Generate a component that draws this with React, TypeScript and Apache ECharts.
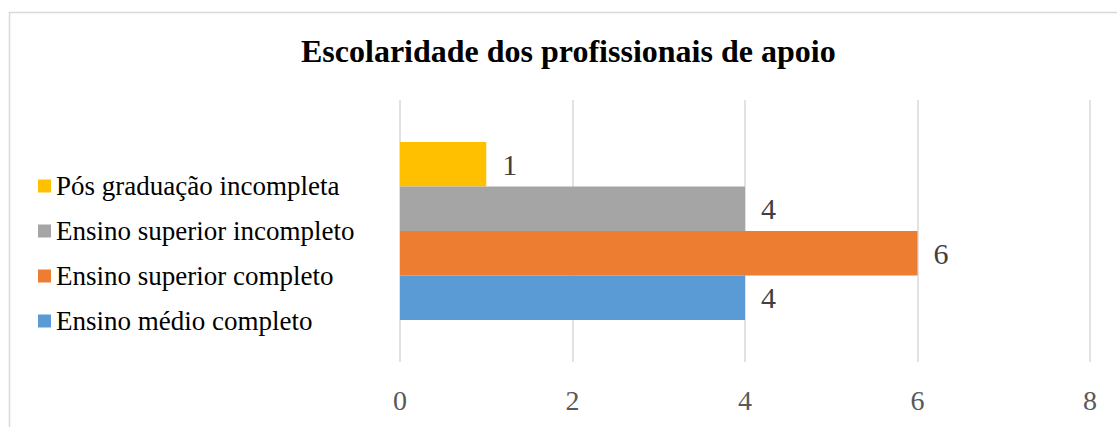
import React, { useEffect, useRef } from "react";
import * as echarts from "echarts";

const title = "Escolaridade dos profissionais de apoio";
const categories = [""];
// top to bottom as drawn
const seriesNames = [
  "Pós graduação incompleta",
  "Ensino superior incompleto",
  "Ensino superior completo",
  "Ensino médio completo",
];
const seriesValues = [[1], [4], [6], [4]];
const seriesColors = ["#FFC000", "#A5A5A5", "#ED7D31", "#5B9BD5"];
const legendOrder = [
  "Pós graduação incompleta",
  "Ensino superior incompleto",
  "Ensino superior completo",
  "Ensino médio completo",
];
const xTicks = { min: 0, max: 8, interval: 2 };

const FONT = "'Times New Roman', 'Liberation Serif', serif";

export default function App() {
  const ref = useRef<HTMLDivElement>(null);
  useEffect(() => {
    if (!ref.current) return;
    const chart = echarts.init(ref.current, undefined, { renderer: "svg" });
    chart.setOption({
      animation: false,
      backgroundColor: "#ffffff",
      textStyle: { fontFamily: FONT },
      title: {
        text: title,
        left: 301,
        top: 35,
        padding: 0,
        textStyle: { fontFamily: FONT, fontSize: 32, fontWeight: "bold", color: "#000000" },
      },
      legend: {
        orient: "vertical",
        left: 33,
        top: 166,
        data: legendOrder,
        icon: "rect",
        itemWidth: 13,
        itemHeight: 13,
        itemGap: 15,
        itemStyle: { borderWidth: 0 },
        textStyle: { fontFamily: FONT, fontSize: 27, color: "#000000", lineHeight: 30 },
      },
      grid: { left: 400, right: 27, top: 100, bottom: 65 },
      xAxis: {
        type: "value",
        min: xTicks.min,
        max: xTicks.max,
        interval: xTicks.interval,
        axisLine: { show: false },
        axisTick: { show: false },
        splitLine: { lineStyle: { color: "#d9d9d9", width: 1.5 } },
        axisLabel: { fontFamily: FONT, fontSize: 28, color: "#595959", margin: 24 },
      },
      yAxis: {
        type: "category",
        data: categories,
        axisLine: { show: false },
        axisTick: { show: false },
        axisLabel: { show: false },
      },
      series: seriesNames.map((name, i) => ({
        name,
        type: "bar",
        data: seriesValues[i],
        barGap: "0%",
        barCategoryGap: "32%",
        itemStyle: { color: seriesColors[i] },
        label: {
          show: true,
          position: "right",
          distance: 16,
          fontFamily: FONT,
          fontSize: 30,
          color: "#404040",
        },
      })),
      graphic: [
        {
          type: "rect",
          shape: { x: 9.5, y: 12.5, width: 1200, height: 600 },
          style: { fill: "none", stroke: "#d9d9d9", lineWidth: 1.5 },
          silent: true,
        },
      ],
    });
    return () => chart.dispose();
  }, []);
  return (
    <div
      ref={ref}
      style={{ position: "fixed", left: 0, top: 0, width: 1117, height: 427 }}
    />
  );
}
